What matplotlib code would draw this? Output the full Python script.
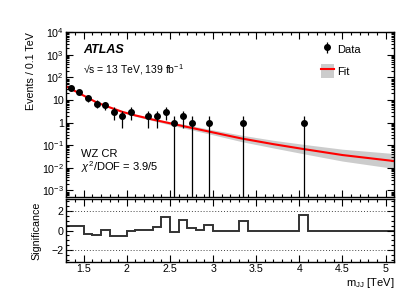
import numpy as np
import matplotlib.pyplot as plt
from matplotlib.patches import Patch
from matplotlib.lines import Line2D
from matplotlib.legend_handler import HandlerTuple
from matplotlib.ticker import MultipleLocator, FixedLocator, FixedFormatter, LogLocator, NullFormatter

plt.rcParams['font.family'] = ['Liberation Sans', 'DejaVu Sans']
plt.rcParams['mathtext.fontset'] = 'custom'
plt.rcParams['mathtext.rm'] = 'Liberation Sans'
plt.rcParams['mathtext.it'] = 'Liberation Sans:italic'
plt.rcParams['mathtext.bf'] = 'Liberation Sans:bold'

# Binning 0.1 TeV von 1.3 bis 5.1 TeV
kanten = np.round(np.arange(1.3, 5.1001, 0.1), 2)
mitten = 0.5 * (kanten[:-1] + kanten[1:])

# Ereignisse pro Bin
daten = [33, 23, 12, 7, 6, 3, 2, 3, 0, 2, 2, 3, 1, 2, 1, 0, 1,
         0, 0, 0, 1, 0, 0, 0, 0, 0, 0, 1,
         0, 0, 0, 0, 0, 0, 0, 0, 0, 0]

# Signifikanz pro Bin
signifikanz = [0.42, 0.49, -0.31, -0.48, 0.07, -0.55, -0.55, -0.05, 0.05, 0.07,
               0.35, 1.40, -0.12, 1.10, 0.22, 0.03, 0.52,
               0, 0, 0, 0.98, 0, 0, 0, 0, 0, 0, 1.56,
               0, 0, 0, 0, 0, 0, 0, 0, 0, 0]

# Fit und Unsicherheitsband
fit_x = [1.3, 1.4, 1.5, 1.65, 1.8, 1.95, 2.1, 2.3, 2.6, 3.0, 3.33, 3.7, 4.05, 4.5, 5.1]
fit_y = [39.8, 25.1, 15.8, 7.9, 4.8, 3.0, 2.1, 1.38, 0.78, 0.37, 0.20, 0.112, 0.068, 0.037, 0.020]
band_hoch = [41.7, 26.3, 16.5, 8.3, 5.1, 3.2, 2.3, 1.55, 0.94, 0.48, 0.28, 0.166, 0.11, 0.067, 0.043]
band_tief = [38.0, 24.0, 15.1, 7.5, 4.5, 2.8, 1.9, 1.23, 0.65, 0.29, 0.145, 0.076, 0.042, 0.020, 0.0094]

ytick_werte = [1e-3, 1e-2, 1e-1, 1, 10, 1e2, 1e3, 1e4]
ytick_texte = [r'10$^{-3}$', r'10$^{-2}$', r'10$^{-1}$', '1', '10',
               r'10$^{2}$', r'10$^{3}$', r'10$^{4}$']

daten = np.array(daten, dtype=float)
maske = daten > 0
x_d = mitten[maske]
y_d = daten[maske]
fehler = np.sqrt(y_d)
fehler_unten = np.minimum(fehler, y_d - 1e-5)

fig = plt.figure(figsize=(4.15, 2.98), dpi=100)
ax = fig.add_axes([0.160, 0.338, 0.790, 0.5536])
axr = fig.add_axes([0.160, 0.122, 0.790, 0.209])

ax.fill_between(fit_x, band_tief, band_hoch, color='#cccccc', lw=0)
ax.plot(fit_x, fit_y, color='#ff0000', lw=1.5)
dat = ax.errorbar(x_d, y_d, yerr=[fehler_unten, fehler], fmt='o', color='black',
                  ms=4.0, elinewidth=0.9, capsize=0)
ax.set_yscale('log')
ax.set_xlim(1.3, 5.1)
ax.set_ylim(5e-4, 1e4)

ax.yaxis.set_major_locator(FixedLocator(ytick_werte))
ax.yaxis.set_major_formatter(FixedFormatter(ytick_texte))
ax.yaxis.set_minor_locator(LogLocator(base=10, subs=np.arange(2, 10), numticks=20))
ax.yaxis.set_minor_formatter(NullFormatter())
ax.xaxis.set_major_locator(MultipleLocator(0.5))
ax.xaxis.set_minor_locator(MultipleLocator(0.1))
ax.tick_params(labelbottom=False)

for a in (ax, axr):
    a.tick_params(which='both', direction='in', top=True, right=True, labelsize=7.7, pad=2)
    a.tick_params(which='major', length=5, width=0.8)
    a.tick_params(which='minor', length=2.5, width=0.8)
    for s in a.spines.values():
        s.set_linewidth(1.0)

ax.text(0.05, 0.89, 'ATLAS', transform=ax.transAxes, fontsize=9,
        fontweight='bold', fontstyle='italic', va='center')
ax.text(0.05, 0.775, '\u221as = 13 TeV, 139 fb$^{-1}$', transform=ax.transAxes,
        fontsize=7.5, va='center')
ax.text(0.045, 0.26, 'WZ CR', transform=ax.transAxes, fontsize=8, va='center')
ax.text(0.045, 0.18, r'$\chi^{2}$/DOF = 3.9/5', transform=ax.transAxes, fontsize=8, va='center')

griff_fit = (Patch(facecolor='#cccccc', edgecolor='none'), Line2D([], [], color='#ff0000', lw=1.5))
leg = ax.legend([dat, griff_fit], ['Data', 'Fit'], loc='upper left',
                bbox_to_anchor=(0.7755, 0.941), frameon=False, fontsize=8,
                handlelength=1.2, handleheight=1.6, handletextpad=0.3,
                labelspacing=0.7, borderpad=0, borderaxespad=0,
                handler_map={tuple: HandlerTuple(ndivide=1, pad=0)})

ax.set_ylabel('Events / 0.1 TeV', fontsize=7.7, loc='top', labelpad=4)

# Signifikanz
axr.stairs(signifikanz, kanten, color='#333333', lw=1.4)
axr.axhline(2, color='#444444', lw=0.7, ls=(0, (1, 2)))
axr.axhline(-2, color='#444444', lw=0.7, ls=(0, (1, 2)))
axr.set_xlim(1.3, 5.1)
axr.set_ylim(-3.2, 3.2)
axr.yaxis.set_major_locator(FixedLocator([-2, 0, 2]))
axr.yaxis.set_minor_locator(MultipleLocator(0.5))
axr.xaxis.set_minor_locator(MultipleLocator(0.1))
axr.set_xticks([1.5, 2, 2.5, 3, 3.5, 4, 4.5, 5])
axr.set_xticklabels(['1.5', '2', '2.5', '3', '3.5', '4', '4.5', '5'])
axr.set_ylabel('Significance', fontsize=7.7, labelpad=7)
axr.set_xlabel(r'm$_{\rm JJ}$ [TeV]', fontsize=8, loc='right', labelpad=1)

fig.align_ylabels([ax, axr])
fig.savefig('out.png', dpi=100)
